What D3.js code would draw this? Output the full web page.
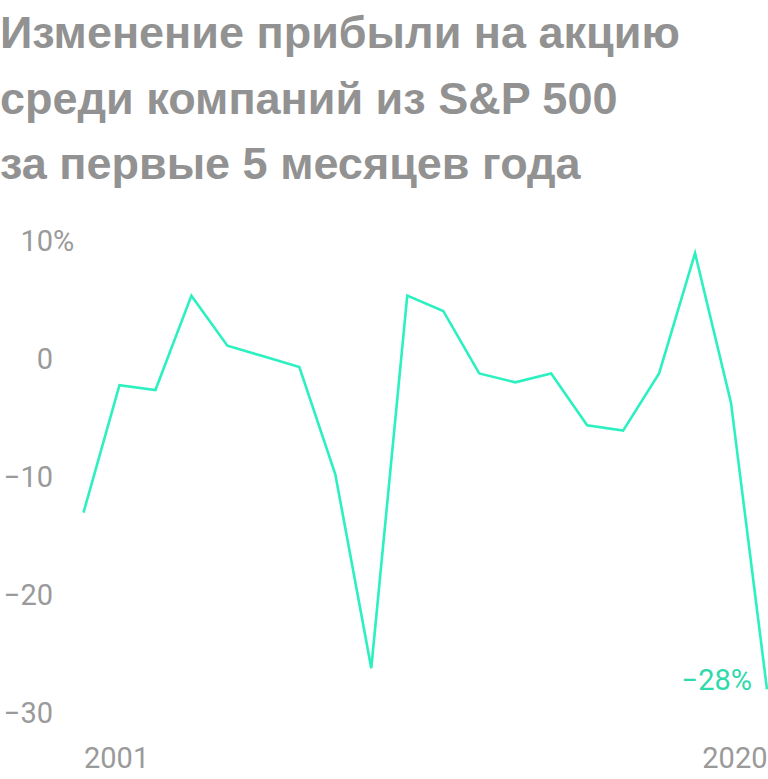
<!DOCTYPE html>
<html>
<head>
<meta charset="utf-8">
<script src="https://cdn.jsdelivr.net/npm/d3@7"></script>
<style>
  html, body { margin: 0; padding: 0; background: #fff; }
  svg { display: block; }
</style>
</head>
<body>
<svg width="768" height="779"></svg>
<script>
// изменение EPS за первые 5 месяцев, %
var years = d3.range(2001, 2021);
var eps = [-13.0, -2.2, -2.6, 5.4, 1.15, 0.25, -0.65, -9.75, -26.2, 5.4,
           4.1, -1.2, -1.95, -1.2, -5.6, -6.05, -1.2, 9.0, -3.7, -28];
var yTicks = [10, 0, -10, -20, -30];
var xTicks = [2001, 2020];
var titleLines = ['Изменение прибыли на акцию', 'среди компаний из S&P 500', 'за первые 5 месяцев года'];

var svg = d3.select('svg');

var x = d3.scaleLinear().domain([2001, 2020]).range([83.5, 767]);
var y = d3.scaleLinear().domain([-30, 10]).range([713, 241.4]);

// заголовок
svg.append('text')
    .attr('font-family', '"Liberation Sans", Arial, sans-serif')
    .attr('font-weight', 'bold')
    .attr('font-size', 45)
    .attr('fill', '#929292')
    .selectAll('tspan')
    .data(titleLines)
    .enter()
    .append('tspan')
    .attr('x', 0)
    .attr('y', function (d, i) { return 48 + i * 65.5; })
    .text(function (d) { return d; });

function fmt(d) {
    return d < 0 ? '\u2212' + Math.abs(d) : String(d);
}

var yAxis = svg.append('g')
    .attr('transform', 'translate(53,0)')
    .call(d3.axisLeft(y).tickValues(yTicks).tickSize(0).tickPadding(0).tickFormat(fmt));
yAxis.select('.domain').remove();
// знак процента висит справа от верхней метки
yAxis.selectAll('.tick').filter(function (d) { return d === yTicks[0]; })
    .append('text')
    .attr('x', 0)
    .attr('dy', '0.32em')
    .attr('text-anchor', 'start')
    .text('%');

var xAxis = svg.append('g')
    .attr('transform', 'translate(0,747)')
    .call(d3.axisBottom(x).tickValues(xTicks).tickSize(0).tickPadding(0).tickFormat(d3.format('d')));
xAxis.select('.domain').remove();
xAxis.selectAll('text')
    .attr('dy', '0.71em')
    .attr('text-anchor', function (d) { return d === 2001 ? 'start' : 'end'; });

svg.selectAll('.tick text')
    .attr('font-family', 'Roboto, sans-serif')
    .attr('font-size', 29)
    .attr('fill', '#9a9a9a');

var line = d3.line()
    .x(function (d, i) { return x(years[i]); })
    .y(function (d) { return y(d); });

svg.append('path')
    .datum(eps)
    .attr('fill', 'none')
    .attr('stroke', '#2cf0c0')
    .attr('stroke-width', 2.6)
    .attr('stroke-linejoin', 'miter')
    .attr('d', line);

// подпись последнего значения
var last = eps.length - 1;
svg.append('text')
    .attr('x', x(years[last]) - 15)
    .attr('y', y(eps[last]) - 10)
    .attr('dy', '0.35em')
    .attr('text-anchor', 'end')
    .attr('font-family', 'Roboto, sans-serif')
    .attr('font-size', 29)
    .attr('fill', '#2fd9ab')
    .text('\u2212' + Math.abs(eps[last]) + '%');
</script>
</body>
</html>
